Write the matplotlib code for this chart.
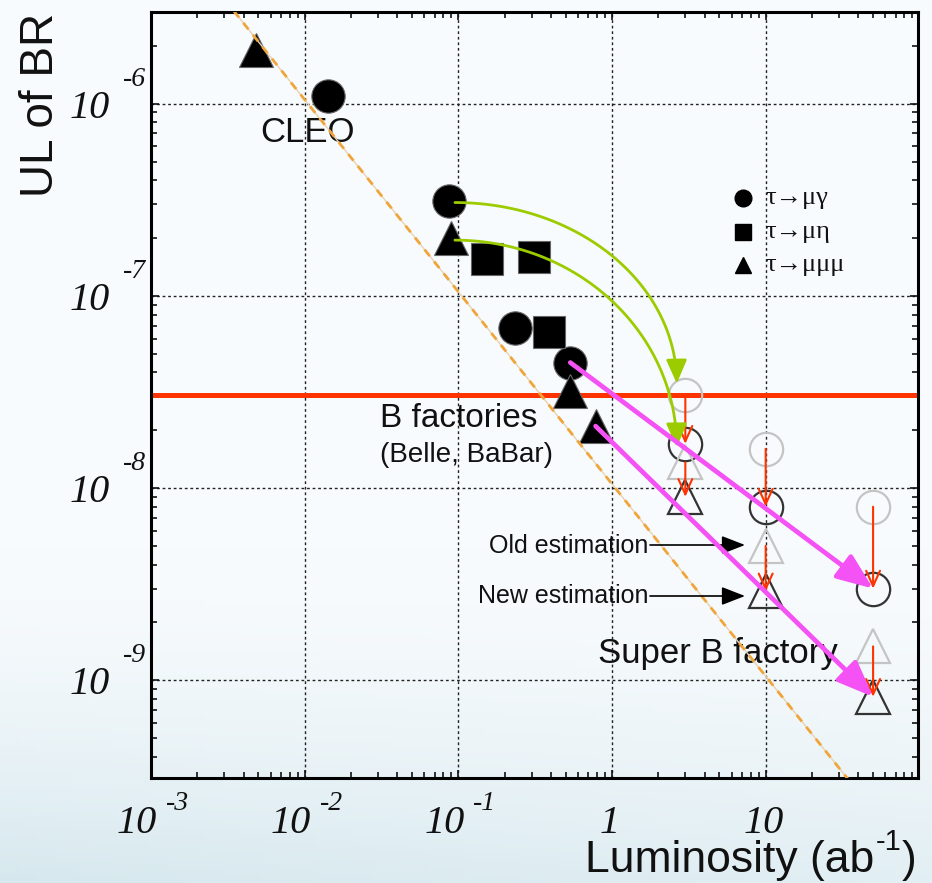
import numpy as np
import matplotlib
matplotlib.use("Agg")
import matplotlib.pyplot as plt
from matplotlib.patches import FancyArrowPatch
from matplotlib.path import Path
from matplotlib.transforms import offset_copy

# ---------------- data ----------------
# measured upper limits (luminosity in ab^-1)
lum_mugamma = [0.0142, 0.087, 0.232, 0.535]
ul_mugamma = [1.1e-6, 3.1e-7, 6.8e-8, 4.5e-8]

lum_mueta = [0.154, 0.31, 0.39]
ul_mueta = [1.55e-7, 1.6e-7, 6.5e-8]

lum_mumumu = [0.0048, 0.09, 0.535, 0.782]
ul_mumumu = [1.9e-6, 2.0e-7, 3.2e-8, 2.1e-8]

# expected limits at a super B factory
proj_lum = [3, 10, 50]
old_mugamma = [3.05e-8, 1.6e-8, 8.0e-9]
new_mugamma = [1.7e-8, 8.0e-9, 3.0e-9]
old_mumumu = [1.36e-8, 5.0e-9, 1.5e-9]
new_mumumu = [9.0e-9, 2.9e-9, 8.2e-10]

b_factory_level = 3.05e-8
scaling_const = 1.05e-8          # UL ~ const / L

x_decades = [-3, -2, -1, 0, 1]
y_decades = [-6, -7, -8, -9]

legend_labels = ["τ→μγ", "τ→μη", "τ→μμμ"]

# ---------------- style ----------------
SANS = ["Liberation Sans", "DejaVu Sans"]
SERIF = ["Liberation Serif", "DejaVu Serif"]
plt.rcParams["font.family"] = SANS
plt.rcParams["mathtext.default"] = "regular"

W, H = 932, 883
fig = plt.figure(figsize=(W / 100, H / 100), dpi=100)

# soft background gradient
bg = fig.add_axes([0, 0, 1, 1], zorder=-10)
ny, nx = 200, 50
t = np.linspace(0, 1, ny)[:, None]
s = np.linspace(0, 1, nx)[None, :]
top = np.array([248, 251, 253]) / 255
bot = np.array([214, 232, 238]) / 255
w = np.clip((t - 0.62) / 0.38, 0, 1) ** 1.6
w = w * (1.0 - 0.35 * s)
grad = top[None, None, :] * (1 - w[..., None]) + bot[None, None, :] * w[..., None]
bg.imshow(grad, aspect="auto", extent=[0, 1, 0, 1], origin="upper")
bg.axis("off")

ax_l, ax_t, ax_w, ax_h = 151, 12, 767, 766
ax = fig.add_axes([ax_l / W, 1 - (ax_t + ax_h) / H, ax_w / W, ax_h / H])
ax.set_facecolor("none")
ax.set_xscale("log")
ax.set_yscale("log")
ax.set_xlim(1e-3, 98)
ax.set_ylim(3.1e-10, 3.0e-6)

for sp in ax.spines.values():
    sp.set_linewidth(2.2)
ax.tick_params(which="both", direction="in", top=True, right=True,
               labelbottom=False, labelleft=False, width=1.2, color="#111")
ax.tick_params(which="major", length=6)
ax.tick_params(which="minor", length=4)
ax.grid(True, which="major", color="#222222", linestyle=(0, (2, 2)), linewidth=1.0)

# custom tick labels: italic "10" with raised exponent
lab_kw = dict(fontsize=29, fontstyle="italic", family=SERIF, color="#111")
exp_kw = dict(fontsize=20, fontstyle="italic", family=SERIF, color="#111")
ytr = ax.get_yaxis_transform()
for d in y_decades:
    ax.text(0, 10.0 ** d, "10", ha="center", va="baseline",
            transform=offset_copy(ytr, fig=fig, x=-61, y=-14, units="dots"), **lab_kw)
    ax.text(0, 10.0 ** d, "-%d" % abs(d), ha="left", va="baseline",
            transform=offset_copy(ytr, fig=fig, x=-28, y=18, units="dots"), **exp_kw)
xtr = ax.get_xaxis_transform()
for d in x_decades:
    if d < 0:
        ax.text(10.0 ** d, 0, "10", ha="center", va="baseline",
                transform=offset_copy(xtr, fig=fig, x=-14, y=-55, units="dots"), **lab_kw)
        ax.text(10.0 ** d, 0, "-%d" % abs(d), ha="left", va="baseline",
                transform=offset_copy(xtr, fig=fig, x=15, y=-32, units="dots"), **exp_kw)
    else:
        ax.text(10.0 ** d, 0, "%d" % (10 ** d), ha="center", va="baseline",
                transform=offset_copy(xtr, fig=fig, x=-2, y=-55, units="dots"), **lab_kw)

# axis titles
fig.text(41 / W, 1 - 105 / H, "UL of BR", rotation=90, ha="center", va="center",
         fontsize=33, color="#111")

# x title built from pieces so the superscript keeps a plain hyphen
renderer = fig.canvas.get_renderer()
x_right, x_base = 915, 872
t_main = fig.text(0, 0, "Luminosity (ab", fontsize=32, color="#111", va="baseline")
t_sup = fig.text(0, 0, "-1", fontsize=21, color="#111", va="baseline")
t_close = fig.text(0, 0, ")", fontsize=32, color="#111", va="baseline")
w_main = t_main.get_window_extent(renderer).width
w_sup = t_sup.get_window_extent(renderer).width
w_close = t_close.get_window_extent(renderer).width
x0 = x_right - (w_main + w_sup + w_close)
t_main.set_position((x0 / W, 1 - x_base / H))
t_sup.set_position(((x0 + w_main + 1) / W, 1 - (x_base - 22) / H))
t_close.set_position(((x0 + w_main + w_sup + 1) / W, 1 - x_base / H))

# B-factory reach line
ax.axhline(b_factory_level, color="#ff3300", lw=3.6, zorder=2)

# measured limits (filled)
mk = dict(ls="none", color="black", mec="#666666", mew=0.8, zorder=4)
ax.plot(lum_mugamma, ul_mugamma, marker="o", ms=24, **mk)
ax.plot(lum_mueta, ul_mueta, marker="s", ms=23, **mk)
ax.plot(lum_mumumu, ul_mumumu, marker="^", ms=24, **mk)

# expected limits (open)
ok = dict(ls="none", mfc="none", mew=1.6, zorder=4)
ax.plot(proj_lum, old_mugamma, marker="o", ms=24, mec="#c4c4c4", **ok)
ax.plot(proj_lum, new_mugamma, marker="o", ms=24, mec="#333333", **ok)
ax.plot(proj_lum, old_mumumu, marker="^", ms=25, mec="#c4c4c4", **ok)
ax.plot(proj_lum, new_mumumu, marker="^", ms=25, mec="#333333", **ok)

# old -> new estimate shifts
for L, a, b in list(zip(proj_lum, old_mugamma, new_mugamma)) + list(zip(proj_lum, old_mumumu, new_mumumu)):
    ax.annotate("", xy=(L, b), xytext=(L, a),
                arrowprops=dict(arrowstyle="->,head_length=0.55,head_width=0.25",
                                color="#ff3300", lw=1.5, shrinkA=0, shrinkB=0,
                                mutation_scale=20), zorder=5)

# naive luminosity scaling
xs = np.logspace(-3, 2, 50)
ax.plot(xs, scaling_const / xs, color="#e8d2b0", lw=1.0, zorder=5)
ax.plot(xs, scaling_const / xs, color="#f0a53a", lw=2.0, ls=(0, (3, 2.5)), zorder=5)

# curved arrows: early Belle limits to new estimates at 3 ab^-1
green_arcs = [((0.095, 3.06e-7), (2.64, 3.5e-8)),
              ((0.095, 1.95e-7), (2.64, 1.63e-8))]
tt = np.linspace(0, np.pi / 2, 80)
for (x0_, y0_), (x1_, y1_) in green_arcs:
    lx0, ly0, lx1, ly1 = np.log10([x0_, y0_, x1_, y1_])
    lx = lx0 + (lx1 - lx0) * np.sin(tt)
    ly = ly1 + (ly0 - ly1) * np.cos(tt)
    verts = np.column_stack([10 ** lx, 10 ** ly])
    codes = [Path.MOVETO] + [Path.LINETO] * (len(verts) - 1)
    arc = FancyArrowPatch(path=Path(verts, codes),
                          arrowstyle="-|>,head_length=0.8,head_width=0.35",
                          mutation_scale=18, color="#9ccc00", lw=2.0,
                          transform=ax.transData, zorder=6)
    ax.add_patch(arc)

# straight scaling arrows to 50 ab^-1
mag = dict(arrowstyle="-|>,head_length=1.0,head_width=0.4",
           color="#f452f4", lw=3.4, shrinkA=0, shrinkB=0, mutation_scale=22)
ax.annotate("", xy=(proj_lum[2], new_mugamma[2]), xytext=(lum_mugamma[3], ul_mugamma[3]),
            arrowprops=mag, zorder=7)
ax.annotate("", xy=(proj_lum[2], new_mumumu[2]), xytext=(lum_mumumu[3], ul_mumumu[3]),
            arrowprops=mag, zorder=7)

# annotations
def axfrac(px, py):
    return (px - ax_l) / ax_w, 1 - (py - ax_t) / ax_h

ax.text(*axfrac(307, 132), "CLEO", transform=ax.transAxes, ha="center", va="center",
        fontsize=25, color="#111")
ax.text(*axfrac(380, 427), "B factories", transform=ax.transAxes, ha="left", va="baseline",
        fontsize=24, color="#111")
ax.text(*axfrac(380, 462), "(Belle, BaBar)", transform=ax.transAxes, ha="left", va="baseline",
        fontsize=20, color="#111")
ax.text(*axfrac(598, 663), "Super B factory", transform=ax.transAxes, ha="left", va="baseline",
        fontsize=25, color="#111")

for label, py_base, py_arrow in [("Old estimation", 553, 545), ("New estimation", 603, 596)]:
    ax.text(*axfrac(648, py_base), label, transform=ax.transAxes, ha="right", va="baseline",
            fontsize=18, color="#111")
    ax.annotate("", xy=axfrac(745, py_arrow), xytext=axfrac(650, py_arrow),
                xycoords="axes fraction", textcoords="axes fraction",
                arrowprops=dict(arrowstyle="-|>,head_length=0.9,head_width=0.35",
                                color="black", lw=1.2, shrinkA=0, shrinkB=0,
                                mutation_scale=16), zorder=6)

# legend
leg_markers = ["o", "s", "^"]
leg_y = [198, 232, 265]
for m, lab, py in zip(leg_markers, legend_labels, leg_y):
    mx, my = axfrac(743, py)
    ax.plot([mx], [my], marker=m, ms=12, color="black", transform=ax.transAxes,
            ls="none", clip_on=False, zorder=6)
    tx, _ = axfrac(765, py)
    ax.text(tx, my, lab, transform=ax.transAxes, ha="left", va="center",
            fontsize=19, family=SERIF, color="#111")

fig.savefig("out.png", dpi=100)
